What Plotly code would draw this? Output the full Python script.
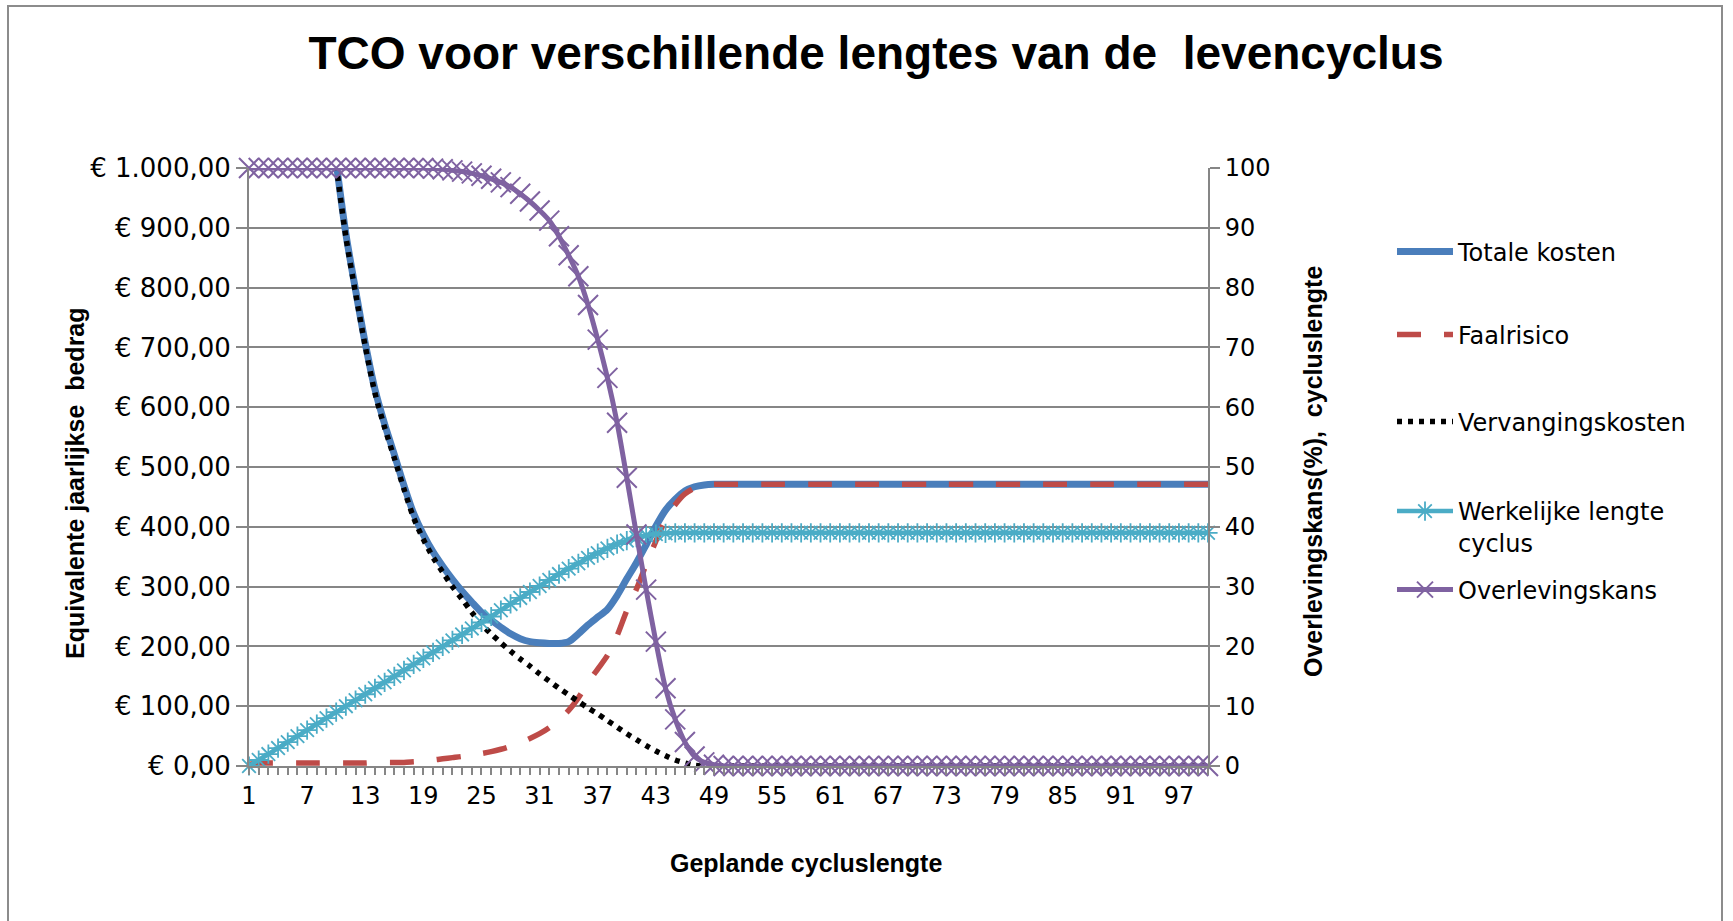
import plotly.graph_objects as go

# ---------------- data ----------------
categories = list(range(1, 101))

x_tick_labels = ["1", "", "", "", "", "", "7", "", "", "", "", "", "13", "", "", "", "", "", "19", "",
                 "", "", "", "", "25", "", "", "", "", "", "31", "", "", "", "", "", "37", "", "", "",
                 "", "", "43", "", "", "", "", "", "49", "", "", "", "", "", "55", "", "", "", "", "",
                 "61", "", "", "", "", "", "67", "", "", "", "", "", "73", "", "", "", "", "", "79", "",
                 "", "", "", "", "85", "", "", "", "", "", "91", "", "", "", "", "", "97", "", "", ""]

left_tick_values = [0, 100, 200, 300, 400, 500, 600, 700, 800, 900, 1000]
left_tick_labels = ["€ 0,00", "€ 100,00", "€ 200,00", "€ 300,00", "€ 400,00", "€ 500,00",
                    "€ 600,00", "€ 700,00", "€ 800,00", "€ 900,00", "€ 1.000,00"]

right_tick_values = [0, 10, 20, 30, 40, 50, 60, 70, 80, 90, 100]
right_tick_labels = ["0", "10", "20", "30", "40", "50", "60", "70", "80", "90", "100"]

totale_kosten = [
    None, None, None, None, None, None, None, None, None, 1010,
    890, 796, 707, 630, 572, 521, 469, 422, 387, 358,
    334, 312, 292, 274, 257, 244, 232, 221, 213, 208,
    206, 205, 205, 208, 221, 236, 249, 262, 285, 313,
    340, 370, 401, 428, 446, 460, 467, 470, 471, 471,
    471, 471, 471, 471, 471, 471, 471, 471, 471, 471,
    471, 471, 471, 471, 471, 471, 471, 471, 471, 471,
    471, 471, 471, 471, 471, 471, 471, 471, 471, 471,
    471, 471, 471, 471, 471, 471, 471, 471, 471, 471,
    471, 471, 471, 471, 471, 471, 471, 471, 471, 471,
]

faalrisico = [
    3, 5, 5, 5, 5, 5, 5, 5, 5, 5,
    5, 5, 5, 6, 6, 6, 6, 7, 8, 10,
    12, 14, 16, 19, 21, 24, 28, 33, 39, 46,
    54, 64, 77, 93, 114, 140, 162, 185, 218, 260,
    296, 337, 376, 412, 437, 455, 465, 470, 471, 471,
    471, 471, 471, 471, 471, 471, 471, 471, 471, 471,
    471, 471, 471, 471, 471, 471, 471, 471, 471, 471,
    471, 471, 471, 471, 471, 471, 471, 471, 471, 471,
    471, 471, 471, 471, 471, 471, 471, 471, 471, 471,
    471, 471, 471, 471, 471, 471, 471, 471, 471, 471,
]

vervangingskosten = [
    None, None, None, None, None, None, None, None, None, 1005,
    885, 791, 702, 624, 566, 515, 463, 415, 379, 349,
    324, 300, 279, 257, 237, 221, 206, 192, 179, 167,
    154, 142, 130, 119, 108, 97, 87, 76, 65, 54,
    44, 34, 25, 17, 10, 5, 1, 0, 0, 0,
    0, 0, 0, 0, 0, 0, 0, 0, 0, 0,
    0, 0, 0, 0, 0, 0, 0, 0, 0, 0,
    0, 0, 0, 0, 0, 0, 0, 0, 0, 0,
    0, 0, 0, 0, 0, 0, 0, 0, 0, 0,
    0, 0, 0, 0, 0, 0, 0, 0, 0, 0,
]

werkelijke_lengte = [
    0, 1, 2, 3, 4, 5, 6, 7, 8, 9,
    10, 11, 12, 13, 14, 15, 16, 17, 18, 19,
    20, 21, 22, 23, 24, 25, 26.05, 27.1, 28.1, 29.1,
    30.1, 31.1, 32.1, 33.0, 33.9, 34.8, 35.6, 36.4, 37.1, 37.7,
    38.2, 38.6, 38.8, 38.9, 39, 39, 39, 39, 39, 39,
    39, 39, 39, 39, 39, 39, 39, 39, 39, 39,
    39, 39, 39, 39, 39, 39, 39, 39, 39, 39,
    39, 39, 39, 39, 39, 39, 39, 39, 39, 39,
    39, 39, 39, 39, 39, 39, 39, 39, 39, 39,
    39, 39, 39, 39, 39, 39, 39, 39, 39, 39,
]

overlevingskans = [
    100, 100, 100, 100, 100, 100, 100, 100, 100, 100,
    100, 100, 100, 100, 100, 100, 100, 100, 100, 99.9,
    99.8, 99.6, 99.4, 99.1, 98.7, 98.2, 97.6, 96.8, 95.7, 94.4,
    92.9, 91.2, 88.6, 85.4, 81.9, 77.1, 71.3, 64.9, 57.4, 48.2,
    38.7, 29.5, 20.8, 13.0, 7.8, 4.0, 1.6, 0.6, 0.2, 0,
    0, 0, 0, 0, 0, 0, 0, 0, 0, 0,
    0, 0, 0, 0, 0, 0, 0, 0, 0, 0,
    0, 0, 0, 0, 0, 0, 0, 0, 0, 0,
    0, 0, 0, 0, 0, 0, 0, 0, 0, 0,
    0, 0, 0, 0, 0, 0, 0, 0, 0, 0,
]

# ---------------- styling ----------------
W, H = 1733, 921
PL, PR, PT, PB = 249, 1208, 168, 766   # plot area in px
PW, PH = PR - PL, PB - PT

def px_x(x):
    return (x - PL) / PW

def px_y(y):
    return (PB - y) / PH

GRID = "#868686"
TICK_FONT = dict(family="DejaVu Sans", size=24, color="black")
LEFT_TICK_FONT = dict(family="DejaVu Sans", size=26, color="black")
TITLE_FONT = dict(family="Liberation Sans", size=25, color="black", weight="bold")

fig = go.Figure()

fig.add_trace(go.Scatter(
    x=categories, y=totale_kosten, name="Totale kosten", mode="lines",
    line=dict(color="#4A7EBB", width=7, shape="spline", smoothing=0.8),
    legend="legend", yaxis="y"))
fig.add_trace(go.Scatter(
    x=categories, y=faalrisico, name="Faalrisico", mode="lines",
    line=dict(color="#BE4B48", width=5.5, dash="24px,23px", shape="spline", smoothing=0.8),
    legend="legend2", yaxis="y"))
fig.add_trace(go.Scatter(
    x=categories, y=vervangingskosten, name="Vervangingskosten", mode="lines",
    line=dict(color="black", width=5.5, dash="5px,6px", shape="spline", smoothing=0.8),
    legend="legend3", yaxis="y"))
fig.add_trace(go.Scatter(
    x=categories, y=werkelijke_lengte, name="Werkelijke lengte<br>cyclus", mode="lines+markers",
    line=dict(color="#4BACC6", width=4.5, shape="spline", smoothing=0.8),
    marker=dict(symbol="asterisk-open", size=16, color="#4BACC6", line=dict(color="#4BACC6", width=1.8)),
    cliponaxis=False, legend="legend4", yaxis="y2"))
fig.add_trace(go.Scatter(
    x=categories, y=overlevingskans, name="Overlevingskans", mode="lines+markers",
    line=dict(color="#7F62A1", width=5, shape="spline", smoothing=0.8),
    marker=dict(symbol="x-thin-open", size=20, color="#7F62A1", line=dict(color="#7F62A1", width=2)),
    cliponaxis=False, legend="legend5", yaxis="y2"))

def legend_box(y_px, valign="middle", yanchor="middle"):
    return dict(x=px_x(1392), y=px_y(y_px), xanchor="left", yanchor=yanchor,
                font=dict(family="DejaVu Sans", size=24, color="black"),
                bgcolor="rgba(0,0,0,0)", borderwidth=0, itemwidth=56,
                valign=valign, itemclick=False, itemdoubleclick=False)

fig.update_layout(
    width=W, height=H, autosize=False,
    margin=dict(l=PL, r=W - PR, t=PT, b=H - PB, pad=0),
    paper_bgcolor="white", plot_bgcolor="white",
    showlegend=True,
    title=dict(text="TCO voor verschillende lengtes van de  levencyclus",
               x=876 / W, xanchor="center", y=1 - 53 / H, yanchor="middle",
               xref="container", yref="container",
               font=dict(family="Liberation Sans", size=46, color="black", weight="bold")),
    xaxis=dict(range=[1, 100], tickmode="array", tickvals=categories, ticktext=x_tick_labels,
               ticks="outside", ticklen=7, tickwidth=1.5, tickcolor=GRID,
               showline=True, linecolor=GRID, linewidth=2, showgrid=False, zeroline=False,
               tickfont=TICK_FONT, tickangle=0, fixedrange=True),
    yaxis=dict(range=[0, 1000], tickmode="array", tickvals=left_tick_values, ticktext=left_tick_labels,
               ticks="outside", ticklen=11, tickwidth=2, tickcolor=GRID,
               showline=True, linecolor=GRID, linewidth=2,
               showgrid=True, gridcolor=GRID, gridwidth=2, zeroline=False,
               tickfont=LEFT_TICK_FONT, fixedrange=True),
    yaxis2=dict(range=[0, 100], overlaying="y", side="right", tickmode="array",
                tickvals=right_tick_values, ticktext=right_tick_labels,
                ticks="outside", ticklen=10, tickwidth=2, tickcolor=GRID,
                showline=True, linecolor=GRID, linewidth=2, showgrid=False, zeroline=False,
                tickfont=TICK_FONT, fixedrange=True),
    legend=legend_box(252),
    legend2=legend_box(335),
    legend3=legend_box(422),
    legend4=legend_box(489, valign="top", yanchor="top"),
    legend5=legend_box(590),
    annotations=[
        dict(text="Equivalente jaarlijkse  bedrag", x=px_x(75), y=px_y(483),
             xref="paper", yref="paper", showarrow=False, textangle=-90,
             xanchor="center", yanchor="middle", font=TITLE_FONT),
        dict(text="Overlevingskans(%),  cycluslengte", x=px_x(1313), y=px_y(472),
             xref="paper", yref="paper", showarrow=False, textangle=-90,
             xanchor="center", yanchor="middle", font=TITLE_FONT),
        dict(text="Geplande cycluslengte", x=px_x(806), y=px_y(863),
             xref="paper", yref="paper", showarrow=False,
             xanchor="center", yanchor="middle", font=TITLE_FONT),
    ],
    shapes=[
        dict(type="rect", xref="paper", yref="paper",
             x0=px_x(8), x1=px_x(1722), y0=px_y(940), y1=px_y(6),
             line=dict(color="#8C8C8C", width=2), fillcolor="rgba(0,0,0,0)", layer="below"),
    ],
)

fig.write_html("out.html", config={"displayModeBar": False},
               post_script="document.body.style.margin='0';document.body.style.overflow='hidden';")
